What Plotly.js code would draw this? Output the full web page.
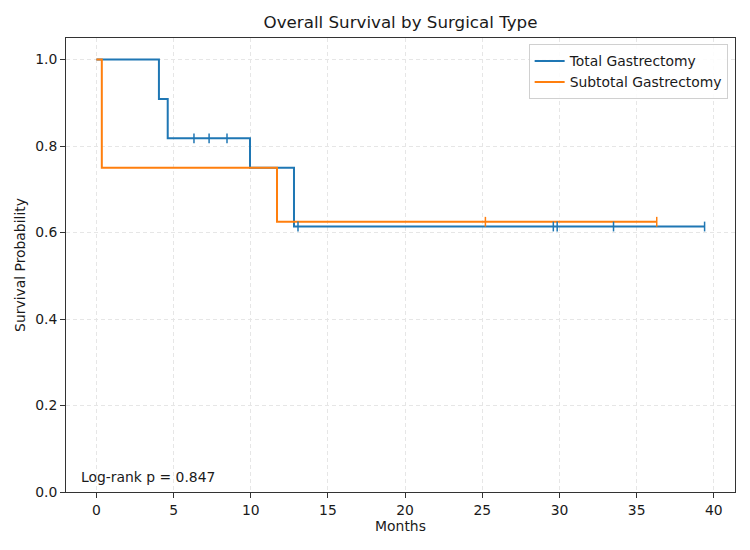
<!DOCTYPE html>
<html>
<head>
<meta charset="utf-8">
<script src="https://cdn.plot.ly/plotly-3.0.1.min.js"></script>
<style>
  html, body { margin: 0; padding: 0; background: #fff; }
  #chart { width: 750px; height: 550px; }
</style>
</head>
<body>
<div id="chart"></div>
<script>
// Kaplan-Meier step curves (time in months, survival probability)
const totalTimes = [0, 4.05, 4.62, 9.95, 12.8, 39.4];
const totalSurv  = [1.0, 0.909, 0.818, 0.75, 0.614, 0.614];
const subtotalTimes = [0, 0.35, 11.7, 36.3];
const subtotalSurv  = [1.0, 0.75, 0.625, 0.625];

// Censored observations
const totalCensorTimes = [6.32, 7.3, 8.46, 13.06, 29.6, 29.85, 33.5, 39.4];
const totalCensorSurv  = [0.818, 0.818, 0.818, 0.614, 0.614, 0.614, 0.614, 0.614];
const subtotalCensorTimes = [25.2, 36.3];
const subtotalCensorSurv  = [0.625, 0.625];

const seriesNames = ['Total Gastrectomy', 'Subtotal Gastrectomy'];
const pValueText = 'Log-rank p = 0.847';
const xTicks = [0, 5, 10, 15, 20, 25, 30, 35, 40];
const yTicks = [0.0, 0.2, 0.4, 0.6, 0.8, 1.0];

const blue = '#1f77b4';
const orange = '#ff7f0e';
const font = 'DejaVu Sans, sans-serif';
const ink = '#1a1a1a';

const traces = [
  {
    x: totalTimes, y: totalSurv, mode: 'lines', name: seriesNames[0],
    line: { color: blue, width: 2, shape: 'hv' }
  },
  {
    x: subtotalTimes, y: subtotalSurv, mode: 'lines', name: seriesNames[1],
    line: { color: orange, width: 2, shape: 'hv' }
  },
  {
    x: totalCensorTimes, y: totalCensorSurv, mode: 'markers', showlegend: false,
    hoverinfo: 'x+y',
    marker: { symbol: 'line-ns', size: 7, line: { color: blue, width: 1.5 } }
  },
  {
    x: subtotalCensorTimes, y: subtotalCensorSurv, mode: 'markers', showlegend: false,
    hoverinfo: 'x+y',
    marker: { symbol: 'line-ns', size: 7, line: { color: orange, width: 1.5 } }
  }
];

const axisCommon = {
  showline: true, mirror: true, linecolor: '#333', linewidth: 1,
  ticks: 'outside', ticklen: 5, tickwidth: 1, tickcolor: '#333',
  showgrid: true, gridcolor: '#e6e6e6', griddash: '4px,3px', gridwidth: 1,
  zeroline: false,
  tickfont: { family: font, size: 13.9, color: ink }
};

const layout = {
  width: 750, height: 550,
  margin: { l: 66, r: 15, t: 38, b: 58 },
  paper_bgcolor: '#fff', plot_bgcolor: '#fff',
  title: {
    text: 'Overall Survival by Surgical Type',
    font: { family: font, size: 16.7, color: ink },
    x: 0.534, xanchor: 'center', y: 0.96, yanchor: 'middle'
  },
  xaxis: Object.assign({}, axisCommon, {
    range: [-1.97, 41.37], tickvals: xTicks, ticktext: xTicks.map(String),
    title: { text: 'Months', font: { family: font, size: 13.9, color: ink }, standoff: 4 }
  }),
  yaxis: Object.assign({}, axisCommon, {
    range: [0, 1.05], tickvals: yTicks, ticktext: yTicks.map(v => v.toFixed(1)),
    title: { text: 'Survival Probability', font: { family: font, size: 13.9, color: ink }, standoff: 6 }
  }),
  legend: {
    x: 0.989, y: 0.986, xanchor: 'right', yanchor: 'top',
    bgcolor: 'rgba(255,255,255,0.85)', bordercolor: '#d0d0d0', borderwidth: 1,
    font: { family: font, size: 13.9, color: ink },
    tracegroupgap: 2
  },
  annotations: [{
    text: pValueText, xref: 'paper', yref: 'paper',
    x: 0.02, y: 0.012, xanchor: 'left', yanchor: 'bottom', showarrow: false,
    font: { family: font, size: 13.9, color: ink }
  }]
};

Plotly.newPlot('chart', traces, layout, { displayModeBar: false, staticPlot: true });
</script>
</body>
</html>
